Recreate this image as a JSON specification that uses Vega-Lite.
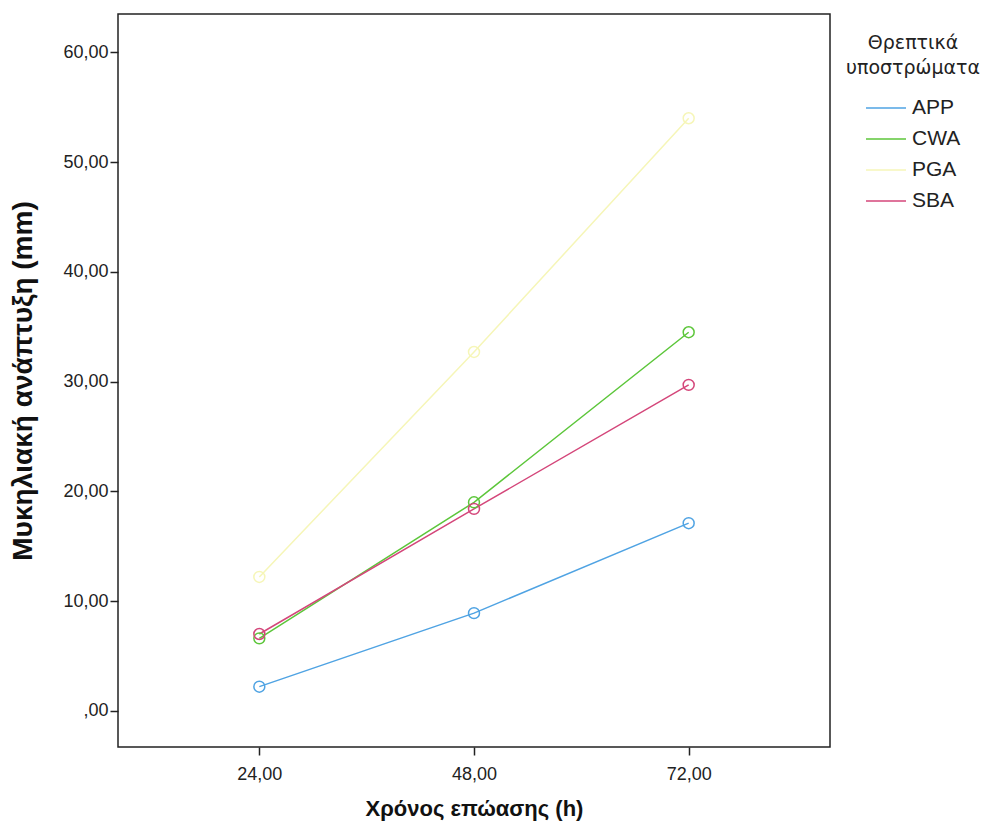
{
  "$schema": "https://vega.github.io/schema/vega-lite/v6.json",
  "autosize": {"type": "none"},
  "width": 712,
  "height": 733,
  "padding": {"left": 118, "top": 14, "right": 162, "bottom": 84},
  "background": "white",
  "config": {
    "font": "Liberation Sans",
    "view": {"stroke": "#222", "strokeWidth": 1.5},
    "axis": {"grid": false, "domain": false, "tickColor": "#222", "tickWidth": 1.5, "tickSize": 8, "labelColor": "#222", "labelFont": "Liberation Sans", "labelFontSize": 18, "titleFont": "Liberation Sans", "titleFontWeight": "bold", "titleColor": "#111"}
  },
  "data": {
    "values": [
      {"time": 24, "value": 2.2, "medium": "APP"},
      {"time": 48, "value": 8.9, "medium": "APP"},
      {"time": 72, "value": 17.1, "medium": "APP"},
      {"time": 24, "value": 6.6, "medium": "CWA"},
      {"time": 48, "value": 19.0, "medium": "CWA"},
      {"time": 72, "value": 34.5, "medium": "CWA"},
      {"time": 24, "value": 12.2, "medium": "PGA"},
      {"time": 48, "value": 32.7, "medium": "PGA"},
      {"time": 72, "value": 54.0, "medium": "PGA"},
      {"time": 24, "value": 7.0, "medium": "SBA"},
      {"time": 48, "value": 18.4, "medium": "SBA"},
      {"time": 72, "value": 29.7, "medium": "SBA"}
    ]
  },
  "encoding": {
    "x": {
      "field": "time", "type": "quantitative",
      "scale": {"domain": [8.2, 87.8], "nice": false, "zero": false},
      "axis": {"values": [24, 48, 72], "labelExpr": "replace(format(datum.value, '.2f'), '.', ',')", "title": "Χρόνος επώασης (h)", "titleFontSize": 22, "titlePadding": 15, "labelPadding": 10}
    },
    "y": {
      "field": "value", "type": "quantitative",
      "scale": {"domain": [-3.3, 63.5], "nice": false, "zero": false},
      "axis": {"values": [0, 10, 20, 30, 40, 50, 60], "labelExpr": "datum.value == 0 ? ',00' : replace(format(datum.value, '.2f'), '.', ',')", "title": "Μυκηλιακή ανάπτυξη (mm)", "titleFontSize": 28, "titlePadding": 25, "labelPadding": 2}
    },
    "color": {
      "field": "medium", "type": "nominal",
      "scale": {"domain": ["APP", "CWA", "PGA", "SBA"], "range": ["#4fa3e3", "#5cc63a", "#f6f6b8", "#d4467a"]},
      "legend": {
        "title": ["Θρεπτικά", "υποστρώματα"],
        "orient": "none",
        "legendX": 728,
        "legendY": 20,
        "titleFont": "DejaVu Sans",
        "titleFontSize": 19,
        "titleFontWeight": "normal",
        "titleColor": "#222",
        "titleAlign": "center",
        "titleAnchor": "middle",
        "titleLineHeight": 25,
        "titlePadding": 9,
        "labelFontSize": 21,
        "labelColor": "#222",
        "symbolType": "stroke",
        "symbolSize": 1600,
        "symbolStrokeWidth": 1.5,
        "rowPadding": -1,
        "labelOffset": 5
      }
    }
  },
  "layer": [
    {"mark": {"type": "line", "strokeWidth": 1.5}},
    {"mark": {"type": "point", "filled": false, "size": 120, "strokeWidth": 1.5, "opacity": 1}}
  ]
}
